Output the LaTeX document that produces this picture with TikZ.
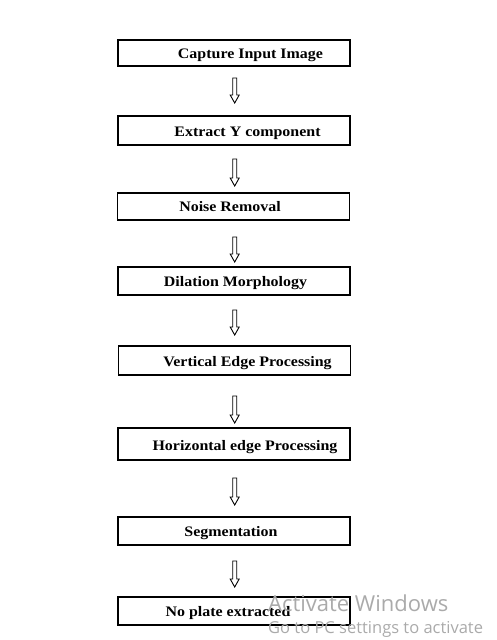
\documentclass[tikz,border=0pt]{standalone}
\usepackage{fontspec}
\newfontfamily\boxfont{Liberation Serif}[FakeStretch=1.1]
\newfontfamily\wmfont{Open Sans}
\usetikzlibrary{calc}
\definecolor{wmgray}{RGB}{170,170,170}
\tikzset{
  stepbox/.style={draw=black, line width=1.1pt, minimum width=232pt, inner sep=0pt},
  steptext/.style={font=\boxfont\bfseries\fontsize{14.5pt}{16pt}\selectfont, inner sep=0pt, anchor=base},
  hollowarrow/.style={draw=black, line width=0.9pt, line join=miter, to path={
    let \p1=(\tikztostart), \p2=(\tikztotarget) in
    (\x1-2pt,\y1) -- (\x1-2pt,\y2+8pt) -- (\x1-4.5pt,\y2+8pt) -- (\x1,\y2)
    -- (\x1+4.5pt,\y2+8pt) -- (\x1+2pt,\y2+8pt) -- (\x1+2pt,\y1) -- cycle}},
  wm/.style={text=wmgray, inner sep=0pt, anchor=base west}
}
\begin{document}
\begin{tikzpicture}[x=1pt,y=-1pt]
\useasboundingbox (0,0) rectangle (496,640);
% boxes
\node[stepbox, minimum height=26pt] (b1) at (234,53) {};
\node[stepbox, minimum height=29pt] (b2) at (234,130.5) {};
\node[stepbox, minimum height=27pt] (b3) at (233.5,206.5) {};
\node[stepbox, minimum height=28pt] (b4) at (234,281) {};
\node[stepbox, minimum height=29pt] (b5) at (234.5,360.5) {};
\node[stepbox, minimum height=32pt] (b6) at (234,444) {};
\node[stepbox, minimum height=28pt] (b7) at (234,531) {};
\node[stepbox, minimum height=28pt] (b8) at (234,611) {};
% texts
\node[steptext] (t1) at (250.5,58) {Capture Input Image};
\node[steptext] (t2) at (247.5,136) {Extract Y component};
\node[steptext] (t3) at (230,211.5) {Noise Removal};
\node[steptext] (t4) at (235.5,286.5) {Dilation Morphology};
\node[steptext] (t5) at (247.5,366) {Vertical Edge Processing};
\node[steptext] (t6) at (245,450) {Horizontal edge Processing};
\node[steptext] (t7) at (231,536) {Segmentation};
\node[steptext] (t8) at (228,616) {No plate extracted};
% arrow end points
\coordinate (a1s) at (234.7,78);  \coordinate (a1e) at (234.7,103);
\coordinate (a2s) at (234.7,159); \coordinate (a2e) at (234.7,186);
\coordinate (a3s) at (234.7,237); \coordinate (a3e) at (234.7,262);
\coordinate (a4s) at (234.7,310); \coordinate (a4e) at (234.7,335);
\coordinate (a5s) at (234.7,396); \coordinate (a5e) at (234.7,423);
\coordinate (a6s) at (234.7,478); \coordinate (a6e) at (234.7,505);
\coordinate (a7s) at (234.7,561); \coordinate (a7e) at (234.7,587);
\foreach \i in {1,...,7} {
  \draw[hollowarrow] (a\i s) to (a\i e);
}
% watermark
\node[wm, font=\wmfont\fontsize{22pt}{24pt}\selectfont] (w1) at (268,611) {Activate Windows};
\node[wm, font=\wmfont\fontsize{16.5pt}{18pt}\selectfont] (w2) at (268,633) {Go to PC settings to activate};
\end{tikzpicture}
\end{document}
